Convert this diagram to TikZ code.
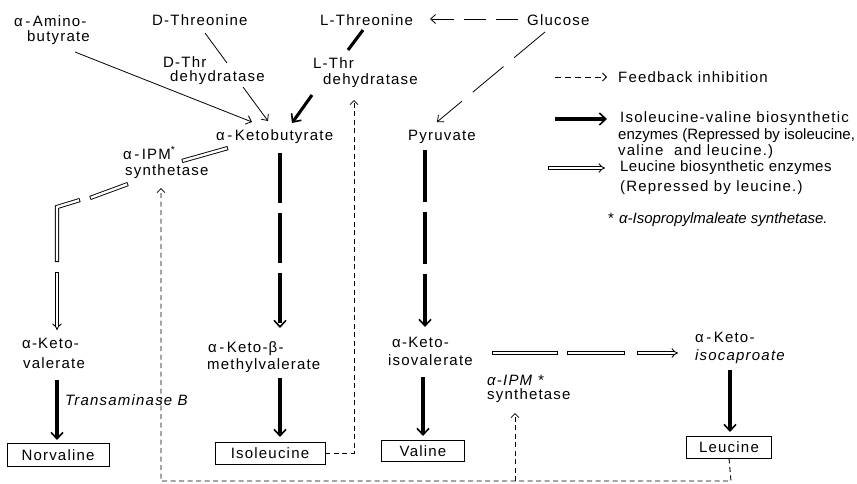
\documentclass[tikz,border=0pt]{standalone}
\usepackage{fontspec}
\setmainfont{Liberation Sans}[LetterSpace=8]
\usetikzlibrary{arrows.meta}
\begin{document}
\begin{tikzpicture}[x=1pt,y=-1pt,
  lbl/.style={inner sep=0pt, anchor=west, font=\fontsize{15}{17}\selectfont},
  thinarr/.style={line width=0.8pt, -{Straight Barb[length=5pt,width=9pt,line width=0.8pt]}},
  heavy/.style={line width=3.1pt, -{Straight Barb[length=6.5pt,width=12pt,line width=1.6pt]}},
  heavyline/.style={line width=3.1pt},
  fb/.style={line width=0.9pt, dash pattern=on 5pt off 3.5pt},
  fbarr/.style={fb, -{Straight Barb[length=4pt,width=8pt,line width=0.8pt]}},
  boxn/.style={draw, line width=0.9pt, inner sep=0pt, font=\fontsize{15}{17}\selectfont},
  dblout/.style={line width=4.2pt, line join=miter},
  dblin/.style={white, line width=2.4pt, line join=miter, shorten <=0.9pt, shorten >=0.9pt},
  dblarr/.style={double, double distance=2.4pt, line width=0.9pt, -{Implies}},
  tailcap/.style={line width=0.9pt},
]
\useasboundingbox (0,0) rectangle (857,483);

% ---- texts ----
\node[lbl] (am1) at (14,21) {α\,-\,Amino-};
\node[lbl] (am2) at (27,38) {butyrate};
\node[lbl] (dthr) at (152,20) {D-Threonine};
\node[lbl] (dthr1) at (163,62) {D-Thr};
\node[lbl] (dthr2) at (170,78) {dehydratase};
\node[lbl] (lthr) at (320,20) {L-Threonine};
\node[lbl] (glu) at (527,20) {Glucose};
\node[lbl] (lthr1) at (313,63) {L-Thr};
\node[lbl] (lthr2) at (323,81) {dehydratase};
\node[lbl] (kb) at (216,137) {α\,-\,Ketobutyrate};
\node[lbl] (pyr) at (408,137) {Pyruvate};
\node[lbl] (ipm1) at (123,153) {α\,-\,IPM\textsuperscript{*}};
\node[lbl] (ipm2) at (125,172) {synthetase};
\node[lbl] (kv1) at (22,343) {α-Keto-};
\node[lbl] (kv2) at (23,363) {valerate};
\node[lbl] (trans) at (65,400) {\itshape Transaminase B};
\node[lbl] (kmv1) at (208,349) {α\,-\,Keto-β-};
\node[lbl] (kmv2) at (207,366) {methylvalerate};
\node[lbl] (kiv1) at (392,342) {α-Keto-};
\node[lbl] (kiv2) at (388,360) {isovalerate};
\node[lbl] (ipm3) at (487,380) {\itshape α-IPM *};
\node[lbl] (ipm4) at (487,396) {synthetase};
\node[lbl] (kic1) at (695,337) {α\,-\,Keto-};
\node[lbl] (kic2) at (695,357) {\itshape isocaproate};

% ---- boxes ----
\node[boxn, minimum width=102pt, minimum height=23pt] (norv) at (58,455) {Norvaline};
\node[boxn, minimum width=110pt, minimum height=22pt] (ile) at (270,453) {Isoleucine};
\node[boxn, minimum width=83pt, minimum height=21pt] (val) at (423,451) {Valine};
\node[boxn, minimum width=85pt, minimum height=22pt] (leu) at (729,447) {Leucine};

% ---- upper connectors ----
\draw[thinarr] (75,52) -- (252,122);
\draw[line width=0.8pt] (205,33) -- (227,63);
\draw[thinarr] (243,87) -- (268,121);
\draw[heavyline] (363,30) -- (348,50);
\draw[heavy] (312,95) -- (292,123);
\draw[thinarr, dash pattern=on 22pt off 10pt] (518,19) -- (430,19);
\draw[thinarr, dash pattern=on 40pt off 14pt] (545,32) -- (437,122);

% ---- main heavy columns ----
\draw[heavy, dash pattern=on 50pt off 10pt] (280,153) -- (280,328);
\draw[heavy, dash pattern=on 52pt off 10pt] (425,150) -- (425,327);
\draw[heavy] (57,380) -- (57,440);
\draw[heavy] (280,378) -- (280,437);
\draw[heavy] (423,377) -- (423,436);
\draw[heavy] (730,370) -- (730,432);

% ---- leucine (double) path, left ----
\draw[dblout] (228,148) -- (182,161);
\draw[dblin]  (228,148) -- (182,161);
\draw[dblout] (128,184) -- (90,198);
\draw[dblin]  (128,184) -- (90,198);
\draw[dblout] (80,200) -- (57,207) -- (57,262);
\draw[dblin]  (80,200) -- (57,207) -- (57,262);
\draw[dblarr] (57,272) -- (57,330);
\draw[tailcap] (54.9,272) -- (59.1,272);

% ---- leucine (double) path, right ----
\draw[dblout] (492,353) -- (558,353);
\draw[dblin]  (492,353) -- (558,353);
\draw[dblout] (567,353) -- (625,353);
\draw[dblin]  (567,353) -- (625,353);
\draw[dblarr] (637,353) -- (678,353);
\draw[tailcap] (637,350.9) -- (637,355.1);

% ---- feedback ----
\draw[fbarr] (ile.east) -- (354,453) -- (354,100);
\draw[fbarr] (leu.south) -- (731,481) -- (161,481) -- (161,188);
\draw[fbarr] (515,481) -- (515,413);

% ---- legend ----
\draw[fbarr, dash pattern=on 6pt off 4pt] (555,77) -- (607,77);
\draw[heavy] (555,119) -- (607,119);
\draw[dblarr] (548,168) -- (605,168);
\draw[tailcap] (548,165.9) -- (548,170.1);
\node[lbl] (lg1) at (618,77) {Feedback inhibition};
\node[lbl] (lg2) at (620,119) {\addfontfeature{LetterSpace=8}Isoleucine-valine biosynthetic};
\node[lbl] (lg3) at (618,136) {\addfontfeature{LetterSpace=0}enzymes (Repressed by isoleucine,};
\node[lbl] (lg4) at (618,152) {valine \ and leucine.)};
\node[lbl] (lg5) at (620,168) {\addfontfeature{LetterSpace=3}Leucine biosynthetic enzymes};
\node[lbl] (lg6) at (620,188) {(Repressed by leucine.)};
\node[lbl] (lg7) at (608,220) {\addfontfeature{LetterSpace=0}*\hspace{5pt}\itshape α-Isopropylmaleate synthetase.};
\end{tikzpicture}
\end{document}
